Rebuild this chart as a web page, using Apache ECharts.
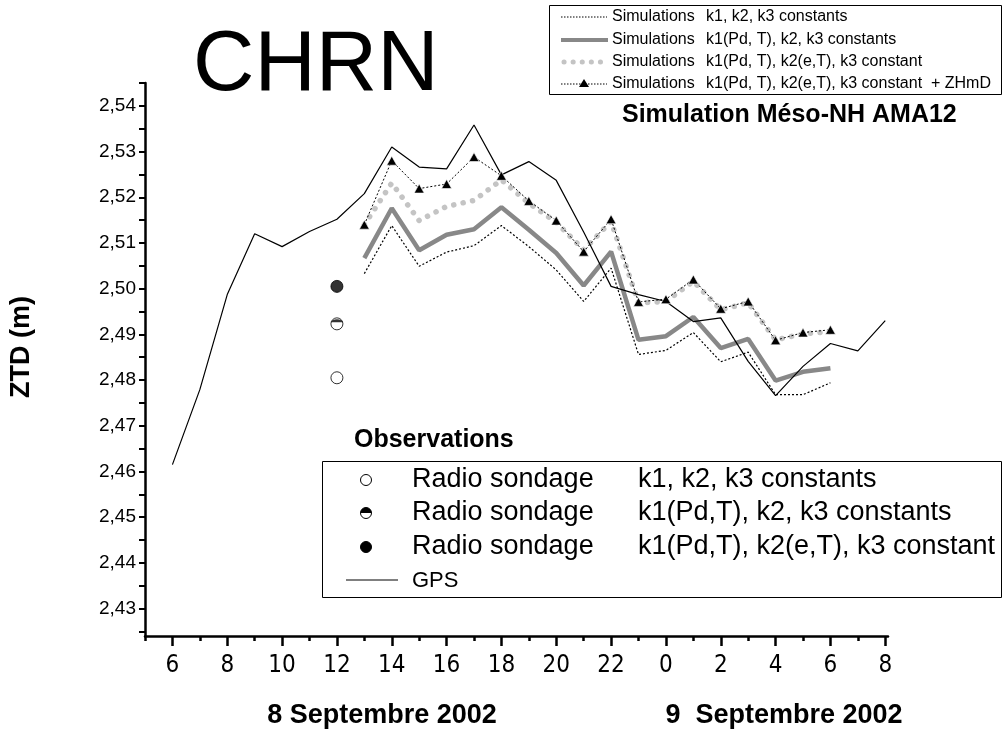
<!DOCTYPE html>
<html>
<head>
<meta charset="utf-8">
<script src="https://cdn.jsdelivr.net/npm/echarts@6/dist/echarts.min.js"></script>
<style>html,body{margin:0;padding:0;background:#fff;}#c{width:1004px;height:729px;}</style>
</head>
<body>
<div id="c"></div>
<script>
// ---- data (hours since 8 Sept 2002 00h) ----
const gpsHours = [6,7,8,9,10,11,12,13,14,15,16,17,18,19,20,21,22,23,24,25,26,27,28,29,30,31,32];
const gps = [2.4615,2.4779,2.4987,2.5120,2.5092,2.5125,2.5152,2.5208,2.5310,2.5266,2.5262,2.5358,2.5249,2.5278,2.5237,2.5124,2.5005,2.4987,2.4972,2.4928,2.4936,2.4841,2.4766,2.4830,2.4880,2.4864,2.4930];
const simHours = [13,14,15,16,17,18,19,20,21,22,23,24,25,26,27,28,29,30];
const simConst = [2.5033,2.5138,2.5049,2.5080,2.5094,2.5138,2.5092,2.5041,2.4972,2.5045,2.4856,2.4865,2.4904,2.4840,2.4861,2.4768,2.4768,2.4794];
const simK1 = [2.5067,2.5176,2.5084,2.5118,2.5130,2.5178,2.5129,2.5078,2.5007,2.5081,2.4888,2.4896,2.4938,2.4870,2.4890,2.4799,2.4818,2.4826];
const simK1K2 = [2.5140,2.5231,2.5149,2.5180,2.5193,2.5238,2.5187,2.5145,2.5085,2.5147,2.4969,2.4972,2.5016,2.4954,2.4969,2.4888,2.4901,2.4906];
const simK1K2Z = [2.5140,2.5280,2.5219,2.5229,2.5288,2.5247,2.5192,2.5149,2.5081,2.5152,2.4971,2.4977,2.5020,2.4956,2.4972,2.4887,2.4904,2.4910];
const radioHour = 12;
const radioConst = 2.4805;
const radioK1 = 2.4923;
const radioK1K2 = 2.5005;
const xMajorTicks = [6,8,10,12,14,16,18,20,22,24,26,28,30,32];
const xMinorTicks = [5,7,9,11,13,15,17,19,21,23,25,27,29,31];
const yLabelTicks = [2.43,2.44,2.45,2.46,2.47,2.48,2.49,2.50,2.51,2.52,2.53,2.54];
const yAllTicks = [2.425,2.43,2.435,2.44,2.445,2.45,2.455,2.46,2.465,2.47,2.475,2.48,2.485,2.49,2.495,2.50,2.505,2.51,2.515,2.52,2.525,2.53,2.535,2.54,2.545];

const zip = (xs, ys) => xs.map((x, i) => [x, ys[i]]);
const FF = "'Liberation Sans', Arial, sans-serif";
const NARROW = "'DejaVu Sans Condensed', 'Liberation Sans Narrow', 'Liberation Sans', Arial, sans-serif";

const chart = echarts.init(document.getElementById('c'), null, {renderer: 'canvas'});

const halfPath = 'path://M0,10A10,10,0,0,1,20,10Z';
const txt = (x, y, text, font, extra) => Object.assign({type: 'text', x: x, y: y, z: 11,
  style: Object.assign({text: text, font: font, fill: '#000', verticalAlign: 'middle'}, extra || {})});

const option = {
  animation: false,
  backgroundColor: '#fff',
  grid: {left: 145, right: 116, top: 83, bottom: 93, containLabel: false},
  xAxis: [
    {
      type: 'value', min: 5, max: 32.1, position: 'bottom',
      axisLine: {show: true, lineStyle: {color: '#000', width: 2.5}},
      axisTick: {show: true, customValues: xMajorTicks, length: 10, lineStyle: {color: '#000', width: 2.5}},
      axisLabel: {show: true, customValues: xMajorTicks, margin: 18, color: '#000', fontSize: 24, fontFamily: NARROW,
        formatter: v => String(Math.round(v) % 24)},
      splitLine: {show: false}
    },
    {
      type: 'value', min: 5, max: 32.1, position: 'bottom',
      axisLine: {show: false},
      axisTick: {show: true, customValues: xMinorTicks, length: 5, lineStyle: {color: '#000', width: 2.5}},
      axisLabel: {show: false},
      splitLine: {show: false}
    }
  ],
  yAxis: {
    type: 'value', min: 2.424, max: 2.545,
    axisLine: {show: true, lineStyle: {color: '#000', width: 2.5}},
    axisTick: {show: true, customValues: yAllTicks, length: 6, lineStyle: {color: '#000', width: 2}},
    axisLabel: {show: true, customValues: yLabelTicks, margin: 9, color: '#000', fontSize: 19, fontFamily: FF,
      formatter: v => v.toFixed(2).replace('.', ',')},
    splitLine: {show: false}
  },
  series: [
    {
      name: 'GPS', type: 'line', data: zip(gpsHours, gps), showSymbol: false, symbol: 'none',
      lineStyle: {color: '#000', width: 1.2}, z: 3
    },
    {
      name: 'Simulations k1, k2, k3 constants', type: 'line', data: zip(simHours, simConst), symbol: 'none',
      lineStyle: {color: '#000', width: 1.2, type: [2, 2]}, z: 3
    },
    {
      name: 'Simulations k1(Pd, T), k2, k3 constants', type: 'line', data: zip(simHours, simK1), symbol: 'none',
      lineStyle: {color: '#888', width: 4.5}, z: 2
    },
    {
      name: 'Simulations k1(Pd, T), k2(e,T), k3 constant', type: 'line', data: zip(simHours, simK1K2), symbol: 'none',
      lineStyle: {color: '#c4c4c4', width: 5.5, type: [0.1, 9.5], cap: 'round'}, z: 2
    },
    {
      name: 'Simulations k1(Pd, T), k2(e,T), k3 constant + ZHmD', type: 'line', data: zip(simHours, simK1K2Z),
      symbol: 'triangle', symbolSize: [10, 9], showSymbol: true,
      itemStyle: {color: '#000', borderColor: '#fff', borderWidth: 0.6},
      lineStyle: {color: '#000', width: 1, type: [2, 2]}, z: 4
    },
    {
      name: 'Radio sondage k1, k2, k3 constants', type: 'scatter', data: [[radioHour, radioConst]],
      symbol: 'circle', symbolSize: 12, itemStyle: {color: '#fff', borderColor: '#000', borderWidth: 1}, z: 5
    },
    {
      name: 'Radio sondage k1(Pd,T), k2, k3 constants', type: 'scatter', data: [[radioHour, radioK1]],
      symbol: 'circle', symbolSize: 12, itemStyle: {color: '#fff', borderColor: '#000', borderWidth: 1}, z: 5
    },
    {
      name: 'Radio sondage k1(Pd,T), k2, k3 constants (half)', type: 'scatter', data: [[radioHour, radioK1]],
      symbol: halfPath, symbolKeepAspect: true, symbolSize: [12, 6], symbolOffset: [0, -3],
      itemStyle: {color: '#000'}, z: 6
    },
    {
      name: 'Radio sondage k1(Pd,T), k2(e,T), k3 constant', type: 'scatter', data: [[radioHour, radioK1K2]],
      symbol: 'circle', symbolSize: 12, itemStyle: {color: '#000', borderColor: '#000', borderWidth: 1}, z: 5
    }
  ],
  graphic: [
    txt(193, 67, 'CHRN', '85px ' + FF),
    txt(622, 115, 'Simulation Méso-NH AMA12', 'bold 25px ' + FF),
    txt(382, 716, '8 Septembre 2002', 'bold 27px ' + FF, {align: 'center'}),
    txt(784, 716, '9  Septembre 2002', 'bold 27px ' + FF, {align: 'center'}),
    {type: 'text', x: 22, y: 347, rotation: Math.PI / 2, z: 11,
      style: {text: 'ZTD (m)', font: 'bold 27px ' + FF, fill: '#000', align: 'center', verticalAlign: 'middle'}},
    // top legend
    {type: 'rect', shape: {x: 549.5, y: 5.5, width: 452, height: 89}, style: {fill: '#fff', stroke: '#000', lineWidth: 1}, z: 10},
    {type: 'line', shape: {x1: 561, y1: 17, x2: 607, y2: 17}, style: {stroke: '#000', lineWidth: 1, lineDash: [1.5, 1.5]}, z: 11},
    {type: 'line', shape: {x1: 561, y1: 40, x2: 608, y2: 40}, style: {stroke: '#888', lineWidth: 4}, z: 11},
    {type: 'line', shape: {x1: 564, y1: 62, x2: 606, y2: 62}, style: {stroke: '#c4c4c4', lineWidth: 5, lineDash: [0.1, 9], lineCap: 'round'}, z: 11},
    {type: 'line', shape: {x1: 561, y1: 84, x2: 607, y2: 84}, style: {stroke: '#000', lineWidth: 1, lineDash: [1.5, 1.5]}, z: 11},
    {type: 'polygon', shape: {points: [[584, 79], [589, 87], [579, 87]]}, style: {fill: '#000'}, z: 12},
    txt(612, 17, 'Simulations', '16px ' + FF),
    txt(612, 40, 'Simulations', '16px ' + FF),
    txt(612, 62, 'Simulations', '16px ' + FF),
    txt(612, 84, 'Simulations', '16px ' + FF),
    txt(706, 17, 'k1, k2, k3 constants', '16px ' + FF),
    txt(706, 40, 'k1(Pd, T), k2, k3 constants', '16px ' + FF),
    txt(706, 62, 'k1(Pd, T), k2(e,T), k3 constant', '16px ' + FF),
    txt(706, 84, 'k1(Pd, T), k2(e,T), k3 constant  + ZHmD', '16px ' + FF),
    // bottom legend
    txt(354, 440, 'Observations', 'bold 25px ' + FF),
    {type: 'rect', shape: {x: 322.5, y: 461.5, width: 679, height: 136}, style: {fill: '#fff', stroke: '#000', lineWidth: 1}, z: 10},
    {type: 'circle', shape: {cx: 366, cy: 480, r: 5.5}, style: {fill: '#fff', stroke: '#000', lineWidth: 1}, z: 11},
    {type: 'circle', shape: {cx: 366, cy: 513, r: 5.5}, style: {fill: '#fff', stroke: '#000', lineWidth: 1}, z: 11},
    {type: 'sector', shape: {cx: 366, cy: 513, r: 5.5, r0: 0, startAngle: Math.PI, endAngle: Math.PI * 2}, style: {fill: '#000'}, z: 12},
    {type: 'circle', shape: {cx: 366, cy: 547, r: 5.5}, style: {fill: '#000', stroke: '#000', lineWidth: 1}, z: 11},
    {type: 'line', shape: {x1: 346, y1: 580, x2: 398, y2: 580}, style: {stroke: '#000', lineWidth: 1}, z: 11},
    txt(412, 480, 'Radio sondage', '27px ' + FF),
    txt(412, 513, 'Radio sondage', '27px ' + FF),
    txt(412, 547, 'Radio sondage', '27px ' + FF),
    txt(638, 480, 'k1, k2, k3 constants', '27px ' + FF),
    txt(638, 513, 'k1(Pd,T), k2, k3 constants', '27px ' + FF),
    txt(638, 547, 'k1(Pd,T), k2(e,T), k3 constant', '27px ' + FF),
    txt(412, 581, 'GPS', '22px ' + FF)
  ]
};
chart.setOption(option);
</script>
</body>
</html>
